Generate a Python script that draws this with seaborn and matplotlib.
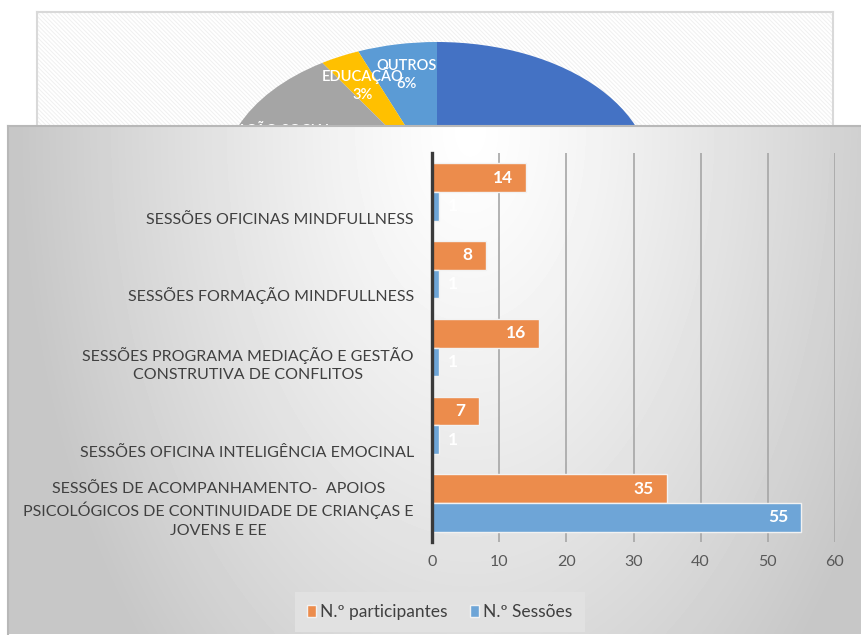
import numpy as np
import pandas as pd
import matplotlib.pyplot as plt
import matplotlib.transforms as mtransforms
import seaborn as sns

# bar chart data (top to bottom)
sessoes = [
    'SESSÕES OFICINAS MINDFULLNESS',
    'SESSÕES FORMAÇÃO MINDFULLNESS',
    'SESSÕES PROGRAMA MEDIAÇÃO E GESTÃO\nCONSTRUTIVA DE CONFLITOS',
    'SESSÕES OFICINA INTELIGÊNCIA EMOCINAL',
    'SESSÕES DE ACOMPANHAMENTO-  APOIOS\nPSICOLÓGICOS DE CONTINUIDADE DE CRIANÇAS E\nJOVENS E EE',
]
participantes = [14, 8, 16, 7, 35]
n_sessoes = [1, 1, 1, 1, 55]
series = ['N.º participantes', 'N.º Sessões']
bar_colors = ['#EC8C4C', '#6EA5D7']

# background pie (counterclockwise from 12 o'clock), mostly hidden
pie_labels = ['OUTROS', 'EDUCAÇÃO', 'AÇÃO SOCIAL', '', '']
pie_values = [6, 3, 20, 16, 55]
pie_colors = ['#5B9BD5', '#FFC000', '#A5A5A5', '#ED7D31', '#4472C4']

plt.rcParams['font.family'] = ['Lato', 'DejaVu Sans']
plt.rcParams['hatch.linewidth'] = 0.7

W, H = 861, 635
fig = plt.figure(figsize=(W / 100, H / 100), dpi=100)
fig.patch.set_facecolor('white')

# ---- pie panel behind ----
ax_pie = fig.add_axes([37 / W, 1 - 400 / H, 796 / W, 388 / H], zorder=0)
wedges, _ = ax_pie.pie(pie_values, colors=pie_colors, startangle=90, counterclock=True,
                       wedgeprops=dict(linewidth=0))
ax_pie.set_aspect('auto')
ax_pie.set_xlim(-400 / 214, 396 / 214)
ax_pie.set_ylim(-224 / 134, 164 / 134)
ax_pie.set_frame_on(True)
ax_pie.patch.set_facecolor('white')
ax_pie.patch.set_hatch(r'\\\\\\\\')
ax_pie.patch.set_edgecolor('#f0f0f0')
for s in ax_pie.spines.values():
    s.set_color('#d9d9d9')
    s.set_linewidth(1.5)
for w, lab, v in zip(wedges, pie_labels, pie_values):
    if not lab:
        continue
    th = np.deg2rad((w.theta1 + w.theta2) / 2)
    ax_pie.text(0.77 * np.cos(th), 0.77 * np.sin(th), f'{lab}\n{v}%',
                ha='center', va='center', color='white', fontsize=10.5,
                fontweight='semibold', linespacing=1.35)

# ---- grey gradient panel in front ----
ax_bg = fig.add_axes([8 / W, 1 / H, 853 / W, 508 / H], zorder=1)
xx, yy = np.meshgrid(np.arange(8, 861), np.arange(126, 634))
r = np.sqrt((xx - 470) ** 2 + ((yy - 130) * 0.6) ** 2) / 450
grad = 1 - 0.22 * np.clip(r, 0, 1) ** 1.2
ax_bg.imshow(grad, cmap='gray', vmin=0, vmax=1, aspect='auto', interpolation='bilinear')
ax_bg.set_xticks([])
ax_bg.set_yticks([])
for side, s in ax_bg.spines.items():
    s.set_visible(side in ('top', 'left'))
    s.set_color('#b8b8b8')
    s.set_linewidth(1.5)

# ---- bar chart ----
df = pd.DataFrame({
    'sessao': sessoes * 2,
    'valor': participantes + n_sessoes,
    'serie': [series[0]] * len(sessoes) + [series[1]] * len(sessoes),
})

ax = fig.add_axes([432 / W, 1 - 542 / H, 403 / W, 389 / H], zorder=2)
ax.patch.set_alpha(0)
sns.barplot(data=df, x='valor', y='sessao', hue='serie', orient='h',
            hue_order=series, palette=bar_colors, width=0.74,
            edgecolor='#f2f2f2', linewidth=1, saturation=1, ax=ax)

for cont, vals in zip(ax.containers, [participantes, n_sessoes]):
    for rect, v in zip(cont, vals):
        yc = rect.get_y() + rect.get_height() / 2
        if v >= 5:
            ax.text(v - 2, yc, str(v), ha='right', va='center', color='white',
                    fontsize=12.5, fontweight='bold')
        else:
            ax.text(v + 1.4, yc, str(v), ha='left', va='center', color='white',
                    fontsize=12.5, fontweight='bold')

ax.set_xlim(0, 60)
ax.set_xticks(range(0, 61, 10))
ax.set_xlabel('')
ax.set_ylabel('')
ax.set_axisbelow(True)
ax.xaxis.grid(True, color='#a6a6a6', linewidth=1.2)
ax.yaxis.grid(False)
for side in ('top', 'right', 'bottom'):
    ax.spines[side].set_visible(False)
ax.spines['left'].set_color('#3a3a3a')
ax.spines['left'].set_linewidth(2.4)
ax.tick_params(axis='x', length=0, pad=9, labelsize=11.5, labelcolor='#595959')
ax.tick_params(axis='y', length=0, pad=13, labelsize=11.5, labelcolor='#404040')
ax.set_yticks(range(len(sessoes)))
ax.set_yticklabels(sessoes, va='bottom', ha='right', multialignment='center',
                   linespacing=1.4)
offset = mtransforms.ScaledTranslation(0, -25 / 72, fig.dpi_scale_trans)
for lab in ax.get_yticklabels():
    lab.set_transform(lab.get_transform() + offset)

handles, labels = ax.get_legend_handles_labels()
ax.get_legend().remove()
fig.legend(handles, labels, loc='center', bbox_to_anchor=(440 / W, 1 - 612 / H),
           ncol=2, frameon=True, facecolor='#e1e1e1', edgecolor='none', framealpha=1,
           fancybox=False, fontsize=12.5, handlelength=0.5, handleheight=0.7,
           handletextpad=0.25, columnspacing=1.3, borderpad=0.7,
           labelcolor='#404040')

fig.savefig('out.png', dpi=100)
